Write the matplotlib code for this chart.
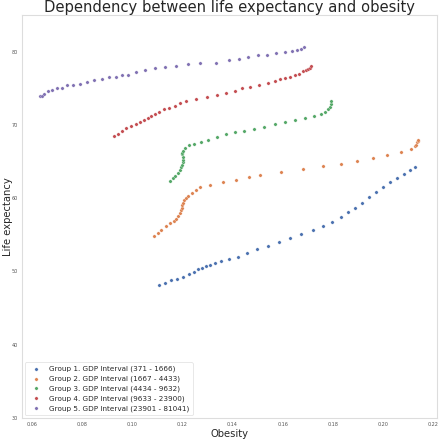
import matplotlib
matplotlib.use("Agg")
import matplotlib.pyplot as plt

# Obesity share vs life expectancy, by GDP interval group
g1_obesity = [0.1108, 0.1132, 0.1156, 0.1180, 0.1204, 0.1225, 0.1245, 0.1262, 0.1278, 0.1294,
              0.1309, 0.1331, 0.1355, 0.1387, 0.1423, 0.1459, 0.1499, 0.1542, 0.1584, 0.1631,
              0.1675, 0.1720, 0.1760, 0.1797, 0.1834, 0.1862, 0.1890, 0.1917, 0.1944, 0.1972,
              0.2001, 0.2029, 0.2057, 0.2083, 0.2107, 0.2130]
g1_life = [48.1, 48.4, 48.8, 49.0, 49.3, 49.7, 49.9, 50.3, 50.5, 50.7,
           50.9, 51.1, 51.4, 51.7, 52.0, 52.5, 53.0, 53.5, 54.0, 54.5,
           55.1, 55.6, 56.2, 56.7, 57.4, 58.1, 58.7, 59.4, 60.2, 60.8,
           61.5, 62.2, 62.7, 63.3, 63.9, 64.3]

g2_obesity = [0.1088, 0.1103, 0.1116, 0.1135, 0.1151, 0.1165, 0.1176, 0.1184, 0.1189, 0.1193,
              0.1197, 0.1199, 0.1203, 0.1208, 0.1213, 0.1223, 0.1237, 0.1253, 0.1272, 0.1309,
              0.1362, 0.1415, 0.1466, 0.1511, 0.1595, 0.1681, 0.1761, 0.1832, 0.1898, 0.1960,
              0.2018, 0.2071, 0.2112, 0.2127, 0.2134, 0.2138, 0.2140, 0.2142]
g2_life = [54.9, 55.3, 55.7, 56.2, 56.6, 56.9, 57.2, 57.6, 58.0, 58.4,
           58.7, 59.1, 59.4, 59.7, 60.0, 60.3, 60.7, 61.1, 61.5, 61.8,
           62.2, 62.5, 62.9, 63.2, 63.6, 64.0, 64.4, 64.7, 65.1, 65.5,
           65.9, 66.3, 66.7, 67.1, 67.3, 67.6, 67.8, 68.0]

g3_obesity = [0.1151, 0.1161, 0.1171, 0.1181, 0.1189, 0.1195, 0.1199, 0.1201, 0.1202, 0.1202,
              0.1200, 0.1199, 0.1203, 0.1212, 0.1228, 0.1248, 0.1273, 0.1301, 0.1337, 0.1375,
              0.1411, 0.1447, 0.1486, 0.1526, 0.1570, 0.1610, 0.1651, 0.1691, 0.1725, 0.1753,
              0.1771, 0.1783, 0.1789, 0.1793, 0.1795]
g3_life = [62.3, 62.7, 63.0, 63.4, 63.8, 64.2, 64.5, 64.9, 65.2, 65.6,
           66.0, 66.2, 66.5, 66.8, 67.2, 67.4, 67.7, 68.0, 68.3, 68.7,
           69.0, 69.2, 69.5, 69.7, 70.1, 70.4, 70.7, 71.0, 71.2, 71.5,
           71.8, 72.2, 72.5, 72.8, 73.2]

g4_obesity = [0.0927, 0.0942, 0.0959, 0.0976, 0.0995, 0.1014, 0.1030, 0.1046, 0.1062, 0.1076,
              0.1091, 0.1108, 0.1128, 0.1148, 0.1169, 0.1191, 0.1215, 0.1254, 0.1300, 0.1339,
              0.1375, 0.1410, 0.1439, 0.1471, 0.1507, 0.1541, 0.1571, 0.1591, 0.1610, 0.1630,
              0.1648, 0.1665, 0.1681, 0.1692, 0.1700, 0.1708, 0.1712]
g4_life = [68.5, 68.8, 69.2, 69.6, 69.8, 70.1, 70.4, 70.7, 71.0, 71.2,
           71.5, 71.8, 72.1, 72.3, 72.6, 73.0, 73.2, 73.5, 73.8, 74.1,
           74.4, 74.6, 75.0, 75.2, 75.5, 75.7, 76.0, 76.2, 76.4, 76.6,
           76.8, 77.0, 77.3, 77.5, 77.6, 77.8, 78.0]

g5_obesity = [0.0632, 0.0641, 0.0648, 0.0663, 0.0680, 0.0699, 0.0719, 0.0741, 0.0765, 0.0793,
              0.0818, 0.0847, 0.0879, 0.0908, 0.0935, 0.0959, 0.0984, 0.1016, 0.1051, 0.1092,
              0.1132, 0.1173, 0.1222, 0.1272, 0.1333, 0.1385, 0.1425, 0.1462, 0.1501, 0.1538,
              0.1575, 0.1610, 0.1636, 0.1656, 0.1672, 0.1685]
g5_life = [73.9, 73.9, 74.2, 74.6, 74.7, 75.0, 75.1, 75.4, 75.5, 75.6,
           75.9, 76.1, 76.3, 76.6, 76.6, 76.8, 76.8, 77.2, 77.5, 77.7,
           77.9, 78.1, 78.3, 78.4, 78.5, 78.9, 79.0, 79.3, 79.5, 79.6,
           79.8, 80.0, 80.1, 80.2, 80.3, 80.6]

group_labels = [
    "Group 1. GDP Interval (371 - 1666)",
    "Group 2. GDP Interval (1667 - 4433)",
    "Group 3. GDP Interval (4434 - 9632)",
    "Group 4. GDP Interval (9633 - 23900)",
    "Group 5. GDP Interval (23901 - 81041)",
]
group_colors = ["#4C72B0", "#DD8452", "#55A868", "#C44E52", "#8172B3"]

series = [(g1_obesity, g1_life), (g2_obesity, g2_life), (g3_obesity, g3_life),
          (g4_obesity, g4_life), (g5_obesity, g5_life)]

fig = plt.figure(figsize=(4.4, 4.4), dpi=100)
ax = fig.add_axes([0.05, 0.05, 0.943, 0.916])

for (xs, ys), lab, col in zip(series, group_labels, group_colors):
    ax.scatter(xs, ys, s=6, color=col, edgecolor="white", linewidth=0.2, label=lab)

ax.set_xlim(0.056, 0.2216)
ax.set_ylim(30, 85)
ax.set_xticks([0.06, 0.08, 0.10, 0.12, 0.14, 0.16, 0.18, 0.20, 0.22])
ax.set_xticklabels(["0.06", "0.08", "0.10", "0.12", "0.14", "0.16", "0.18", "0.20", "0.22"])
ax.set_yticks([30, 40, 50, 60, 70, 80])
ax.tick_params(labelsize=3.5, length=0, pad=3, labelcolor="#555555")
for sp in ax.spines.values():
    sp.set_color("#dddddd")
    sp.set_linewidth(0.8)

ax.set_xlabel("Obesity", fontsize=7.2, color="#262626", labelpad=1)
ax.set_ylabel("Life expectancy", fontsize=7.2, color="#262626")
ax.yaxis.set_label_coords(-0.022, 0.5)
ax.set_title("Dependency between life expectancy and obesity", fontsize=10.6,
             color="#262626", pad=1)

leg = ax.legend(loc="lower left", fontsize=5.2, frameon=True, markerscale=1.0,
                handletextpad=0.8, borderpad=0.5, labelspacing=0.45,
                borderaxespad=0.4)
leg.get_frame().set_edgecolor("#dddddd")
leg.get_frame().set_linewidth(0.6)
for t in leg.get_texts():
    t.set_color("#262626")

fig.savefig("out.png", dpi=100)
